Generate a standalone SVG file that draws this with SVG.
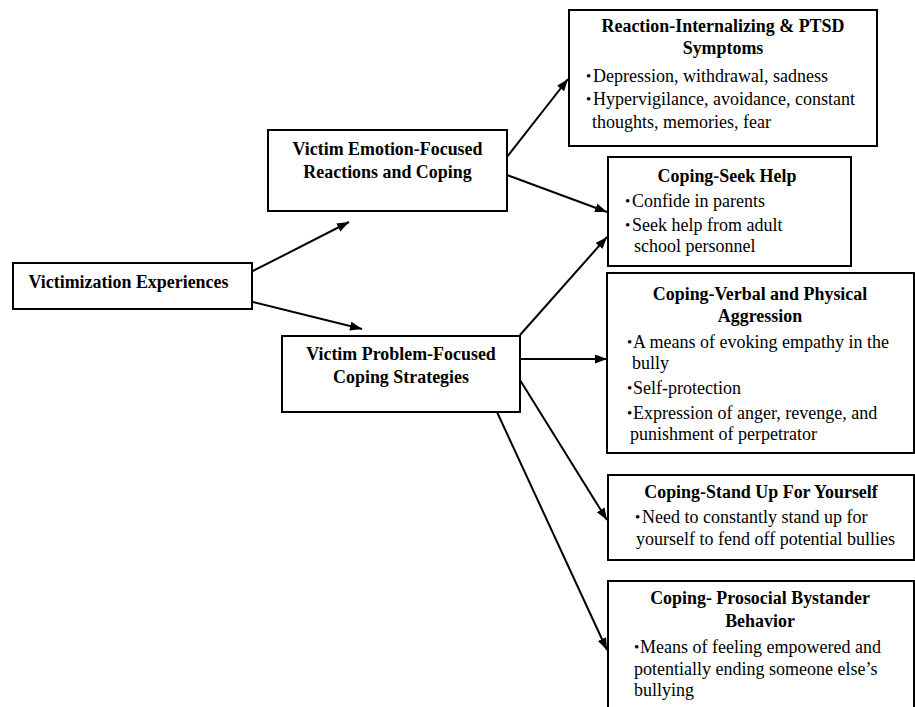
<svg xmlns="http://www.w3.org/2000/svg" width="915" height="707" viewBox="0 0 915 707">
<style>
.box{fill:#fff;stroke:#000;stroke-width:2}
.t{font-family:"Liberation Serif","Times New Roman",serif;font-size:19.5px;font-weight:bold;fill:#000;text-anchor:middle}
.b{font-family:"Liberation Serif","Times New Roman",serif;font-size:18px;fill:#000}
.d{font-family:"Liberation Serif","Times New Roman",serif;font-size:15px;fill:#000}
.c line{stroke:#000;stroke-width:2;marker-end:url(#ah)}
</style>
<defs>
<marker id="ah" markerUnits="userSpaceOnUse" markerWidth="13" markerHeight="10" refX="12" refY="4.5" orient="auto">
<path d="M0,0 L12,4.5 L0,9 z" fill="#000"/>
</marker>
</defs>
<rect width="915" height="707" fill="#fff"/>
<g id="connectors" class="c">
<line x1="253" y1="271" x2="349" y2="222"/>
<line x1="253" y1="302" x2="362" y2="329"/>
<line x1="507" y1="157" x2="568" y2="79"/>
<line x1="507" y1="175" x2="607" y2="212"/>
<line x1="520" y1="335" x2="607" y2="237"/>
<line x1="520" y1="359" x2="607" y2="359"/>
<line x1="520" y1="380" x2="607" y2="520"/>
<line x1="497" y1="412" x2="607" y2="650"/>
</g>
<g id="victimization">
<rect class="box" x="13" y="263" width="239" height="46"/>
<text class="t" transform="translate(128.5,288) scale(0.92,1)">Victimization Experiences</text>
</g>
<g id="emotion">
<rect class="box" x="268" y="130" width="239" height="81"/>
<text class="t" transform="translate(387.5,155) scale(0.92,1)">Victim Emotion-Focused</text>
<text class="t" transform="translate(387.5,178) scale(0.92,1)">Reactions and Coping</text>
</g>
<g id="problem">
<rect class="box" x="282" y="336" width="238" height="76"/>
<text class="t" transform="translate(401,360) scale(0.92,1)">Victim Problem-Focused</text>
<text class="t" transform="translate(401,383) scale(0.92,1)">Coping Strategies</text>
</g>
<g id="reaction">
<rect class="box" x="569" y="10" width="308" height="136"/>
<text class="t" transform="translate(723,32) scale(0.92,1)">Reaction-Internalizing &amp; PTSD</text>
<text class="t" transform="translate(723,54) scale(0.92,1)">Symptoms</text>
<text class="d" x="586" y="81">•</text><text class="b" x="593" y="82">Depression, withdrawal, sadness</text>
<text class="d" x="586" y="104">•</text><text class="b" x="593" y="105">Hypervigilance, avoidance, constant</text>
<text class="b" x="592" y="128">thoughts, memories, fear</text>
</g>
<g id="seekhelp">
<rect class="box" x="608" y="157" width="243" height="109"/>
<text class="t" transform="translate(727,182) scale(0.92,1)">Coping-Seek Help</text>
<text class="d" x="625" y="206">•</text><text class="b" x="632" y="207">Confide in parents</text>
<text class="d" x="625" y="230">•</text><text class="b" x="632" y="231">Seek help from adult</text>
<text class="b" x="634" y="252">school personnel</text>
</g>
<g id="aggression">
<rect class="box" x="607" y="273" width="307" height="180"/>
<text class="t" transform="translate(760,300) scale(0.92,1)">Coping-Verbal and Physical</text>
<text class="t" transform="translate(760,322) scale(0.92,1)">Aggression</text>
<text class="d" x="627" y="347">•</text><text class="b" x="633" y="348">A means of evoking empathy in the</text>
<text class="b" x="632" y="369">bully</text>
<text class="d" x="627" y="393">•</text><text class="b" x="633" y="394">Self-protection</text>
<text class="d" x="627" y="418">•</text><text class="b" x="633" y="419">Expression of anger, revenge, and</text>
<text class="b" x="630" y="440">punishment of perpetrator</text>
</g>
<g id="standup">
<rect class="box" x="608" y="475" width="306" height="85"/>
<text class="t" transform="translate(761,498) scale(0.92,1)">Coping-Stand Up For Yourself</text>
<text class="d" x="635" y="522">•</text><text class="b" x="642" y="523">Need to constantly stand up for</text>
<text class="b" x="636" y="545">yourself to fend off potential bullies</text>
</g>
<g id="prosocial">
<rect class="box" x="608" y="581" width="306" height="140"/>
<text class="t" transform="translate(760,604) scale(0.92,1)">Coping- Prosocial Bystander</text>
<text class="t" transform="translate(760,627) scale(0.92,1)">Behavior</text>
<text class="d" x="634" y="652">•</text><text class="b" x="640" y="653">Means of feeling empowered and</text>
<text class="b" x="634" y="675">potentially ending someone else’s</text>
<text class="b" x="634" y="696">bullying</text>
</g>
</svg>
